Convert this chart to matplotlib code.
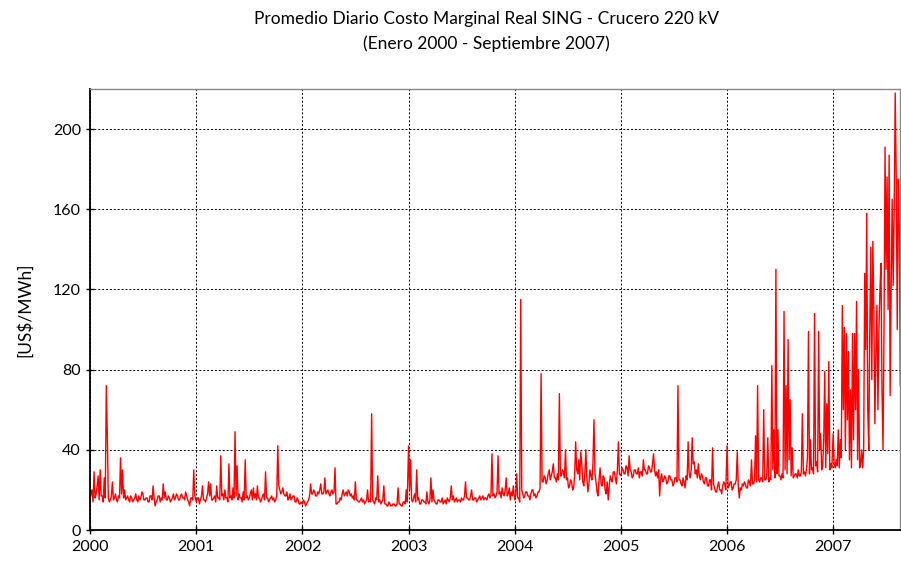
import numpy as np
import pandas as pd
import matplotlib
matplotlib.use('Agg')
import matplotlib.pyplot as plt
import matplotlib.dates as mdates

# valores [US$/MWh], dos por semana, cada lista parte el 1 de enero
v2000 = [15, 18, 20, 14, 29, 16, 18, 22, 27, 15, 30, 17, 17, 14, 26, 16, 72, 48, 16, 14, 15, 17, 24, 15, 16, 18,
         15, 14, 17, 16, 36, 18, 30, 16, 20, 15, 16, 17, 15, 14, 17, 16, 14, 15, 16, 18, 15, 14, 17, 15, 16, 19,
         18, 15, 15, 16, 16, 14, 14, 17, 17, 15, 22, 16, 12, 14, 15, 17, 17, 14, 16, 15, 23, 16, 19, 15, 15, 17,
         16, 14, 15, 16, 18, 15, 16, 18, 17, 15, 15, 17, 18, 16, 16, 15, 19, 17, 15, 14, 12, 16, 16, 15, 30, 17]
v2001 = [14, 16, 16, 13, 15, 17, 22, 15, 15, 14, 16, 18, 24, 17, 23, 15, 15, 16, 17, 14, 22, 16, 16, 15, 37, 17,
         18, 15, 20, 16, 16, 14, 33, 16, 17, 15, 21, 16, 49, 17, 32, 15, 18, 16, 16, 14, 19, 15, 35, 16, 17, 15,
         16, 18, 20, 15, 21, 16, 18, 15, 22, 16, 16, 14, 15, 17, 18, 15, 29, 16, 16, 14, 15, 16, 17, 15, 16, 14,
         15, 17, 42, 22, 20, 18, 19, 21, 18, 17, 17, 19, 15, 16, 18, 15, 16, 17, 17, 14, 14, 16, 15, 13, 13, 14]
v2002 = [13, 15, 14, 12, 13, 14, 15, 17, 23, 18, 18, 20, 19, 17, 17, 19, 18, 20, 23, 18, 18, 19, 26, 18, 19, 20,
         18, 17, 19, 20, 18, 19, 31, 13, 13, 14, 14, 16, 15, 18, 20, 17, 18, 19, 17, 20, 19, 17, 18, 16, 17, 15,
         24, 15, 15, 14, 14, 15, 16, 14, 15, 13, 14, 15, 20, 14, 15, 14, 58, 15, 14, 13, 16, 15, 27, 14, 15, 13,
         14, 15, 22, 13, 13, 12, 12, 14, 13, 12, 12, 13, 13, 12, 12, 13, 21, 13, 13, 12, 12, 14, 14, 13, 20, 14]
v2003 = [42, 20, 35, 15, 14, 16, 18, 14, 30, 15, 16, 13, 13, 15, 15, 14, 14, 13, 19, 14, 13, 15, 26, 14, 20, 15,
         14, 13, 13, 15, 15, 14, 14, 16, 13, 14, 15, 13, 16, 15, 14, 16, 22, 15, 17, 14, 15, 16, 14, 15, 15, 14,
         16, 15, 15, 17, 24, 16, 16, 15, 15, 17, 20, 15, 15, 16, 16, 14, 15, 16, 17, 15, 16, 17, 15, 16, 16, 15,
         17, 18, 16, 17, 38, 17, 18, 16, 17, 19, 37, 18, 19, 16, 21, 18, 17, 20, 26, 17, 18, 21, 15, 19, 17, 22]
v2004 = [15, 17, 28, 16, 16, 14, 115, 20, 18, 16, 17, 19, 19, 17, 17, 15, 18, 20, 20, 17, 18, 16, 17, 19, 19, 21,
         78, 24, 24, 27, 26, 23, 25, 28, 30, 25, 27, 29, 33, 26, 26, 24, 28, 25, 68, 27, 27, 30, 29, 26, 40, 25,
         26, 21, 22, 25, 24, 20, 21, 27, 44, 30, 28, 35, 25, 39, 33, 24, 22, 28, 40, 26, 19, 23, 30, 27, 25, 33,
         55, 28, 24, 19, 17, 25, 31, 23, 22, 27, 26, 20, 18, 24, 15, 22, 27, 25, 24, 29, 29, 26, 23, 30, 44, 28]
v2005 = [27, 31, 30, 28, 28, 32, 31, 27, 37, 30, 29, 26, 27, 30, 30, 28, 28, 31, 26, 29, 29, 27, 35, 30, 30, 28,
         28, 32, 31, 29, 29, 33, 38, 30, 27, 29, 26, 30, 17, 26, 28, 24, 25, 27, 26, 23, 24, 27, 27, 25, 25, 22,
         23, 26, 26, 24, 72, 25, 25, 23, 22, 26, 24, 21, 27, 25, 44, 28, 26, 30, 46, 33, 34, 28, 30, 26, 33, 27,
         25, 28, 27, 24, 23, 26, 26, 22, 22, 25, 25, 20, 41, 23, 21, 19, 19, 22, 24, 20, 20, 18, 22, 24, 23, 20]
v2006 = [42, 21, 22, 24, 24, 20, 21, 23, 23, 25, 39, 22, 16, 21, 20, 23, 22, 24, 23, 21, 21, 25, 24, 22, 35, 23,
         23, 25, 47, 24, 72, 25, 24, 26, 26, 24, 60, 25, 25, 27, 46, 24, 26, 25, 82, 30, 50, 26, 130, 28, 50, 27,
         27, 25, 28, 26, 109, 30, 72, 28, 95, 35, 65, 27, 41, 26, 27, 28, 28, 26, 30, 27, 27, 29, 58, 28, 29, 27,
         30, 36, 99, 28, 45, 30, 31, 28, 108, 32, 34, 29, 99, 40, 48, 30, 32, 45, 79, 31, 63, 38, 84, 30, 33, 31]
v2007 = [48, 33, 31, 35, 32, 50, 31, 45, 36, 112, 60, 101, 40, 98, 55, 89, 35, 70, 31, 98, 45, 98, 60, 114,
         35, 80, 31, 33, 40, 31, 40, 128, 90, 158, 60, 40, 100, 141, 75, 144, 110, 53, 88, 112, 60, 100,
         120, 133, 70, 40, 100, 191, 130, 176, 110, 187, 67, 120, 165, 122, 160, 218, 175, 100, 175, 152, 72]

years = [2000, 2001, 2002, 2003, 2004, 2005, 2006, 2007]
values = [v2000, v2001, v2002, v2003, v2004, v2005, v2006, v2007]

parts = []
for year, vals in zip(years, values):
    idx = pd.Timestamp(f'{year}-01-01') + pd.to_timedelta(np.arange(len(vals)) * 3.5, unit='D')
    parts.append(pd.Series(vals, index=idx))
cmg = pd.concat(parts)

plt.rcParams['font.family'] = ['Lato', 'DejaVu Sans']

fig = plt.figure(figsize=(9.01, 5.66), dpi=100)
ax = fig.add_axes([0.0999, 0.0636, 0.8990, 0.7792])

ax.plot(cmg.index, cmg.values, color='#FF0000', lw=1.0)

ax.set_xlim(pd.Timestamp('2000-01-01'), pd.Timestamp('2007-08-19'))
ax.set_ylim(0, 220)
ax.set_yticks(range(0, 201, 40))
ax.xaxis.set_major_locator(mdates.YearLocator())
ax.xaxis.set_major_formatter(mdates.DateFormatter('%Y'))

ax.grid(True, color='black', linestyle=(0, (2, 2)), lw=0.7)
ax.set_axisbelow(True)
for s in ['left', 'bottom']:
    ax.spines[s].set_color('black')
    ax.spines[s].set_linewidth(1.3)
for s in ['top', 'right']:
    ax.spines[s].set_color('#888888')
    ax.spines[s].set_linewidth(1.0)

ax.tick_params(axis='both', direction='inout', length=6, width=1, labelsize=11.5, colors='black')
ax.tick_params(axis='x', pad=4)
ax.set_ylabel('[US$/MWh]', fontsize=12.5, labelpad=14)

fig.text(0.540, 0.966, 'Promedio Diario Costo Marginal Real SING - Crucero 220 kV',
         ha='center', va='center', fontsize=12.5)
fig.text(0.540, 0.922, '(Enero 2000 - Septiembre 2007)', ha='center', va='center', fontsize=12.5)

fig.savefig('out.png', dpi=100)
